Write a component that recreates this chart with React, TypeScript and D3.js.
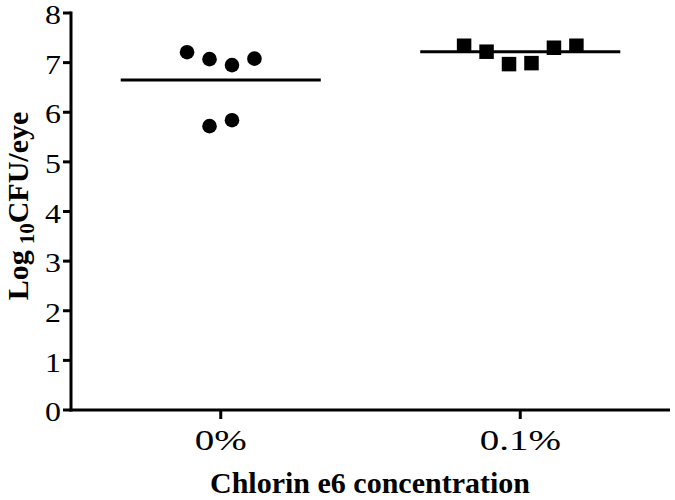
import React from "react";
import * as d3 from "d3";

const categories = ["0%", "0.1%"];
const yTicks = [0, 1, 2, 3, 4, 5, 6, 7, 8];
// Group 0% (circles)
const ctrlValues = [7.21, 7.07, 6.95, 7.08, 5.72, 5.84];
const ctrlSlots = [-1.5, -0.5, 0.5, 1.5, -0.5, 0.5];
// Group 0.1% (squares)
const treatValues = [7.34, 7.22, 6.97, 6.99, 7.30, 7.34];
const treatSlots = [-2.5, -1.5, -0.5, 0.5, 1.5, 2.5];
const means = [6.65, 7.22];

const W = 675;
const H = 500;
const FONT = "'Liberation Serif', 'Times New Roman', serif";

export default function App() {
  const x = d3.scaleLinear().domain([-0.5, 1.5]).range([71, 670]);
  const y = d3.scaleLinear().domain([0, 8]).range([410, 13]);
  const slotW = 0.075;
  const halfLine = 0.334;
  const r = 7.3;
  const sq = 14.5;

  return (
    <svg width={W} height={H} style={{ position: "absolute", left: 0, top: 0, background: "#fff" }}>
      <rect x={0} y={0} width={W} height={H} fill="#fff" />
      {/* y axis */}
      <line x1={x(-0.5)} x2={x(-0.5)} y1={y(8) - 1.5} y2={y(0) + 1.5} stroke="#000" strokeWidth={3} />
      {yTicks.map((t) => (
        <g key={t}>
          <line x1={x(-0.5) - 8} x2={x(-0.5)} y1={y(t)} y2={y(t)} stroke="#000" strokeWidth={3} />
          <text
            transform={`translate(61,${y(t) + 11.2}) scale(1.18,1)`}
            textAnchor="end"
            fontFamily={FONT}
            fontSize={27}
            fill="#000"
          >
            {t}
          </text>
        </g>
      ))}
      {/* x axis */}
      <line x1={x(-0.5) - 1.5} x2={x(1.5)} y1={y(0)} y2={y(0)} stroke="#000" strokeWidth={3} />
      {categories.map((c, i) => (
        <g key={c}>
          <line x1={x(i)} x2={x(i)} y1={y(0)} y2={y(0) + 9} stroke="#000" strokeWidth={3} />
          <text
            transform={`translate(${x(i)},450) scale(1.3,1)`}
            textAnchor="middle"
            fontFamily={FONT}
            fontSize={30}
            fill="#000"
          >
            {c}
          </text>
        </g>
      ))}
      {/* axis titles */}
      <text
        transform={`translate(28,206) rotate(-90)`}
        textAnchor="middle"
        fontFamily={FONT}
        fontSize={30}
        fontWeight="bold"
        fill="#000"
      >
        Log
        <tspan dx={6} fontSize={21} dy={6}>10</tspan>
        <tspan dy={-6}>CFU/eye</tspan>
      </text>
      <text x={370} y={493} textAnchor="middle" fontFamily={FONT} fontSize={30} fontWeight="bold" fill="#000">
        Chlorin e6 concentration
      </text>
      {/* mean lines */}
      {means.map((m, i) => (
        <line key={i} x1={x(i - halfLine)} x2={x(i + halfLine)} y1={y(m)} y2={y(m)} stroke="#000" strokeWidth={3} />
      ))}
      {/* points */}
      {ctrlValues.map((v, k) => (
        <circle key={k} cx={x(0 + ctrlSlots[k] * slotW)} cy={y(v)} r={r} fill="#000" />
      ))}
      {treatValues.map((v, k) => (
        <rect
          key={k}
          x={x(1 + treatSlots[k] * slotW) - sq / 2}
          y={y(v) - sq / 2}
          width={sq}
          height={sq}
          fill="#000"
        />
      ))}
    </svg>
  );
}
